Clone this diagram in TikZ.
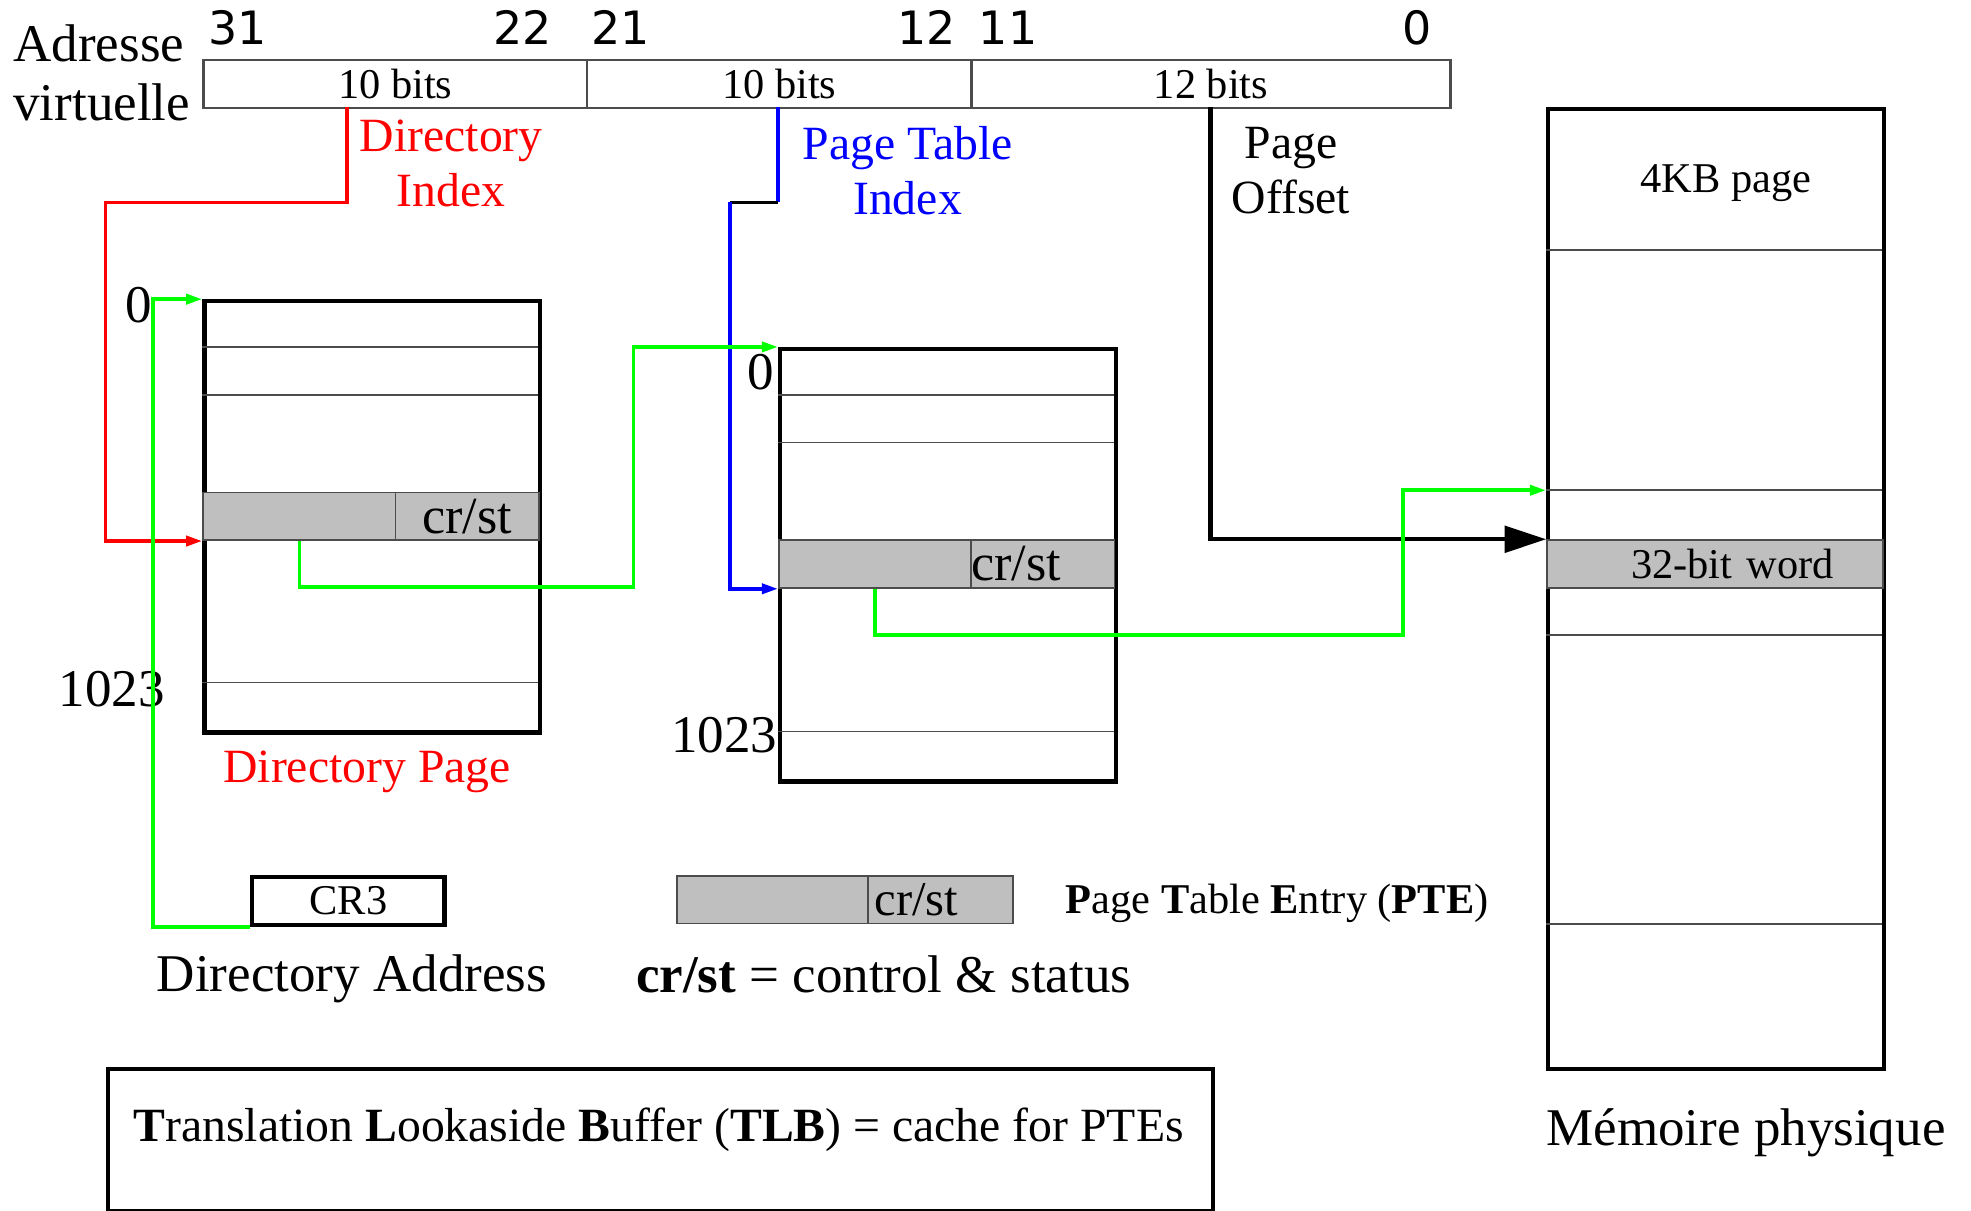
\documentclass[tikz,border=0pt]{standalone}
\usepackage{fontspec}
\setmainfont{Liberation Serif}
\newfontfamily\bitfont{DejaVu Sans}
\usetikzlibrary{arrows.meta}

\begin{document}
\begin{tikzpicture}[
    x=0.1mm, y=-0.1mm,
    field/.style={draw=gray!60!black, line width=0.5pt, anchor=north west,
                  inner sep=0pt, minimum height=3.8mm,
                  font=\fontsize{9.6}{11}\selectfont},
    bitnum/.style={inner sep=0pt, font=\bitfont\fontsize{10.4}{12}\selectfont},
    pagebox/.style={draw=black, line width=0.95pt, anchor=north west, inner sep=0pt},
    entry/.style={draw=gray!60!black, line width=0.4pt, fill=gray!50,
                  anchor=north west, inner sep=0pt, minimum height=3.8mm,
                  font=\fontsize{11.8}{13}\selectfont},
    rowline/.style={gray!60!black, line width=0.4pt},
    big/.style={inner sep=0pt, font=\fontsize{12}{13.4}\selectfont},
    mid/.style={inner sep=0pt, align=center, font=\fontsize{10.8}{12.5}\selectfont},
    small/.style={inner sep=0pt, font=\fontsize{9.6}{11}\selectfont},
    flow/.style={line width=0.85pt, -{Triangle[length=1.3mm, width=0.8mm]}},
    offarrow/.style={line width=0.95pt, -{Triangle[length=3.3mm, width=2.1mm]}}
]
\useasboundingbox (0,0) rectangle (1568,963);

% Virtual address
\node[big, anchor=west, align=left] (vaddr) at (10,58) {Adresse\\virtuelle};
\node[bitnum, anchor=west] (b31) at (165,22) {31};
\node[bitnum, anchor=east] (b22) at (440,22) {22};
\node[bitnum, anchor=west] (b21) at (470,22) {21};
\node[bitnum, anchor=east] (b12) at (761,22) {12};
\node[bitnum, anchor=west] (b11) at (778,22) {11};
\node[bitnum, anchor=east] (b0) at (1140,22) {0};
\node[field, minimum width=30.5mm] (dirfield) at (161,47) {10 bits};
\node[field, minimum width=30.6mm] (ptfield) at (466,47) {10 bits};
\node[field, minimum width=38.1mm] (offfield) at (772,47) {12 bits};

\node[mid, red] (diridx) at (359,130) {Directory\\Index};
\node[mid, blue] (ptidx) at (722,136) {Page Table\\Index};
\node[mid] (pgoff) at (1027,136) {Page\\Offset};

% Directory page
\node[pagebox, minimum width=26.7mm, minimum height=34.3mm] (dirpage) at (161,238) {};
\foreach \y in {276,314,543}
    \draw[rowline] (161,\y) -- (428,\y);
\node[entry, minimum width=15.3mm] (dirptr) at (161,391) {};
\node[entry, minimum width=11.4mm] (dirctl) at (314,391) {cr/st};
\node[big] (dirfirst) at (110,243) {0};
\node[big] (dirlast) at (89,548) {1023};
\node[mid, red] (dirname) at (292,614) {Directory Page};

% Page table
\node[pagebox, minimum width=26.7mm, minimum height=34.4mm] (ptpage) at (619,276) {};
\foreach \y in {314,352,582}
    \draw[rowline] (619,\y) -- (886,\y);
\node[entry, minimum width=15.3mm] (ptptr) at (619,429) {};
\node[entry, text width=11.4mm, align=left] (ptctl) at (772,429) {cr/st};
\node[big] (ptfirst) at (605,296) {0};
\node[big] (ptlast) at (576,585) {1023};

% Physical memory
\node[pagebox, minimum width=26.7mm, minimum height=76.4mm] (mem) at (1230,85) {};
\foreach \y in {199,390,505,735}
    \draw[rowline] (1230,\y) -- (1497,\y);
\node[entry, text width=18.9mm, inner xsep=3.9mm, align=right,
      font=\fontsize{9.6}{11}\selectfont] (memword) at (1230,429) {32-bit word};
\node[small] (pagesize) at (1373,146) {4KB page};
\node[big] (memname) at (1389,901) {Mémoire physique};

% CR3 and legend
\node[pagebox, minimum width=15.3mm, minimum height=3.8mm,
      font=\fontsize{9.6}{11}\selectfont] (cr3) at (199,696) {CR3};
\node[big] (diraddr) at (280,779) {Directory Address};
\node[entry, minimum width=15.2mm] (pteptr) at (538,696) {};
\node[entry, text width=10.5mm, inner xsep=0.5mm, align=left,
      font=\fontsize{11}{12}\selectfont] (ptectl) at (690,696) {cr/st};
\node[small] (ptename) at (1016,719)
    {\textbf{P}age \textbf{T}able \textbf{E}ntry (\textbf{PTE})};
\node[big] (crst) at (703,775) {\textbf{cr/st} = control \& status};

% TLB
\node[pagebox, minimum width=87.9mm, minimum height=11.3mm] (tlb) at (84,849) {};
\node[mid] (tlbtext) at (524,899)
    {\textbf{T}ranslation \textbf{L}ookaside \textbf{B}uffer (\textbf{TLB}) = cache for PTEs};

% Index lines
\coordinate (dirtap) at (276,85);
\draw[flow, red] (dirtap) |- (84,161) |- (dirptr.south west);

\coordinate (pttap) at (619,85);
\coordinate (ptbend) at (619,161);
\coordinate (ptjog) at (581,161);
\draw[line width=0.85pt, blue] (pttap) -- (ptbend);
\draw[line width=0.85pt] (ptbend) -- (ptjog);
\draw[flow, blue] (ptjog) |- (ptptr.south west);

\coordinate (offtap) at (963,85);
\draw[offarrow] (offtap) |- (memword.north west);

% Pointer chain
\draw[flow, green] (cr3.south west) -| (122,238) -- (dirpage.north west);
\draw[flow, green] (dirptr.south) |- (504,467) |- (ptpage.north west);
\coordinate (pagebase) at (1230,390);
\draw[flow, green] (ptptr.south) |- (1116,505) |- (pagebase);

\end{tikzpicture}
\end{document}
